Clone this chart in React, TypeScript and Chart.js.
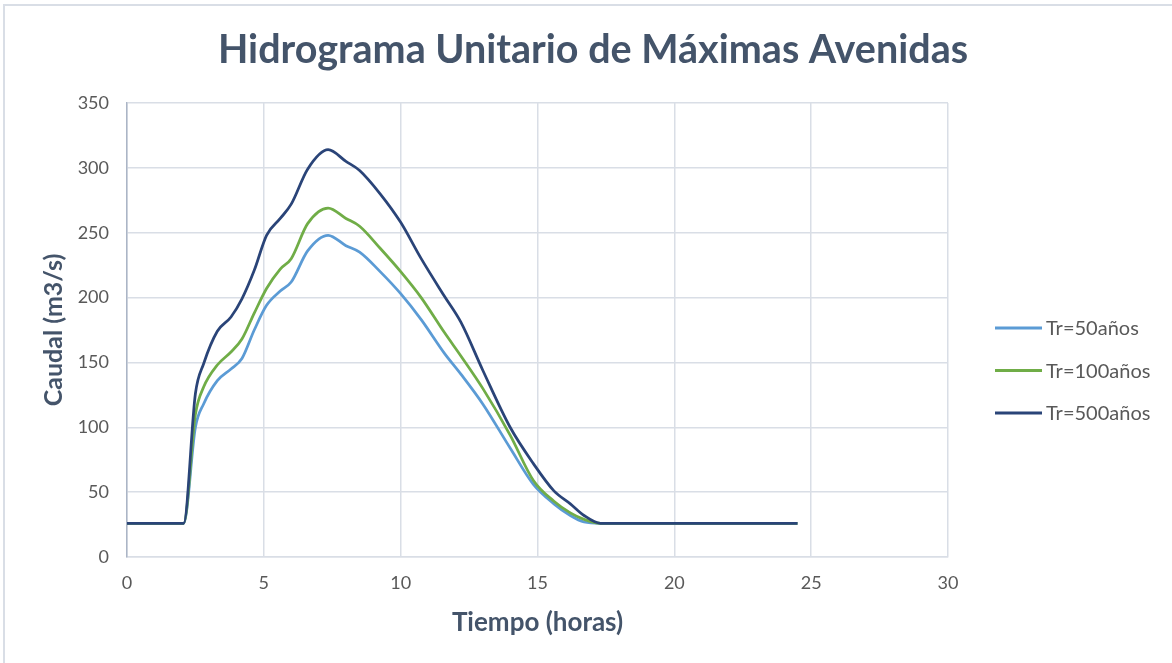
import React, { useEffect, useRef } from "react";
import { Chart, registerables } from "chart.js";

Chart.register(...registerables);

const titleText = "Hidrograma Unitario de Máximas Avenidas";
const xTitle = "Tiempo (horas)";
const yTitle = "Caudal (m3/s)";
const seriesNames = ["Tr=50años", "Tr=100años", "Tr=500años"];
const seriesColors = ["#5B9BD5", "#70AD47", "#2A4478"];

const xTicks = [0, 5, 10, 15, 20, 25, 30];
const yTicks = [0, 50, 100, 150, 200, 250, 300, 350];

const times = [0, 2.07, 2.5, 2.8, 3.3, 3.8, 4.2, 4.65, 5.1, 5.6, 6.0, 6.6, 7.35, 8.0, 8.5, 9.25, 10, 10.75, 11.6, 12.2, 13.0, 14.0, 14.85, 15.6, 16.2, 16.7, 17.3, 24.5];
const q50 = [26, 26, 100, 118, 136, 145, 153, 175, 194, 205, 212, 236, 248, 240, 235, 220, 203, 183, 157, 141, 118, 84, 56, 41, 32, 27, 26, 26];
const q100 = [26, 26, 110, 131, 148, 158, 168, 188, 207, 222, 230, 257, 269, 261, 255, 238, 220, 200, 173, 155, 130, 94, 59, 43, 34, 29, 26, 26];
const q500 = [26, 26, 126, 149, 174, 185, 199, 221, 248, 261, 272, 299, 314, 305, 298, 280, 258, 230, 201, 181, 144, 100, 72, 51, 41, 32, 26, 26];

const seriesValues = [q50, q100, q500];

const FONT = "Lato, 'Open Sans', sans-serif";
const TICK_COLOR = "#595959";
const TITLE_COLOR = "#44546A";
const GRID_COLOR = "#D9DEE6";

export default function App() {
  const ref = useRef<HTMLCanvasElement>(null);

  useEffect(() => {
    const canvas = ref.current;
    if (!canvas) return;

    const decor = {
      id: "decor",
      beforeDraw(chart: any) {
        const ctx = chart.ctx;
        ctx.save();
        ctx.fillStyle = "#FFFFFF";
        ctx.fillRect(0, 0, chart.width, chart.height);
        ctx.fillStyle = GRID_COLOR;
        ctx.fillRect(3, 4, chart.width - 3, 2);
        ctx.fillRect(3, 4, 2, chart.height - 4);
        ctx.restore();
      },
      afterDraw(chart: any) {
        const ctx = chart.ctx;
        ctx.save();
        // title
        ctx.fillStyle = TITLE_COLOR;
        ctx.font = `bold 39.5px ${FONT}`;
        ctx.textAlign = "center";
        ctx.textBaseline = "alphabetic";
        ctx.fillText(titleText, 593, 63);
        // legend
        const ys = [328, 370.5, 413];
        ctx.font = `20px ${FONT}`;
        ctx.textAlign = "left";
        ctx.textBaseline = "middle";
        seriesNames.forEach((name, i) => {
          ctx.strokeStyle = seriesColors[i];
          ctx.lineWidth = 3;
          ctx.beginPath();
          ctx.moveTo(995, ys[i]);
          ctx.lineTo(1042, ys[i]);
          ctx.stroke();
          ctx.fillStyle = TICK_COLOR;
          ctx.fillText(name, 1046, ys[i] + 1);
        });
        ctx.restore();
      },
    };

    const chart = new Chart(canvas, {
      type: "line",
      data: {
        datasets: seriesNames.map((name, i) => ({
          label: name,
          data: times.map((t, j) => ({ x: t, y: seriesValues[i][j] })),
          borderColor: seriesColors[i],
          backgroundColor: seriesColors[i],
          borderWidth: 2.75,
          pointRadius: 0,
          cubicInterpolationMode: "monotone" as const,
          fill: false,
          order: 2 - i,
        })),
      },
      options: {
        responsive: false,
        animation: false,
        layout: { padding: { left: 0, top: 103, right: 224, bottom: 0 } },
        plugins: {
          legend: { display: false },
          title: { display: false },
          tooltip: { enabled: false },
        },
        scales: {
          x: {
            type: "linear",
            min: xTicks[0],
            max: xTicks[xTicks.length - 1],
            afterBuildTicks: (s: any) => {
              s.ticks = xTicks.map((v) => ({ value: v }));
            },
            ticks: {
              color: TICK_COLOR,
              font: { family: FONT, size: 18 },
              padding: 15,
              maxRotation: 0,
            },
            grid: { color: GRID_COLOR, drawTicks: false, lineWidth: 1.5 },
            border: { color: GRID_COLOR, width: 1.5 },
            title: {
              display: true,
              text: xTitle,
              color: TITLE_COLOR,
              font: { family: FONT, size: 26, weight: "bold" },
              padding: { top: 0, bottom: 25 },
            },
            afterFit: (s: any) => {
              s.height = 106;
            },
          },
          y: {
            type: "linear",
            min: yTicks[0],
            max: yTicks[yTicks.length - 1],
            afterBuildTicks: (s: any) => {
              s.ticks = yTicks.map((v) => ({ value: v }));
            },
            ticks: {
              color: TICK_COLOR,
              font: { family: FONT, size: 18 },
              padding: 18,
            },
            grid: { color: GRID_COLOR, drawTicks: false, lineWidth: 1.5 },
            border: { color: "#ABB5C6", width: 1.5 },
            title: {
              display: true,
              text: yTitle,
              color: TITLE_COLOR,
              font: { family: FONT, size: 25, weight: "bold" },
              padding: { top: 39, bottom: 0 },
            },
            afterFit: (s: any) => {
              s.width = 127;
            },
          },
        },
      },
      plugins: [decor],
    });

    return () => chart.destroy();
  }, []);

  return (
    <div style={{ position: "fixed", left: 0, top: 0, width: 1172, height: 663 }}>
      <canvas ref={ref} width={1172} height={663} style={{ display: "block" }} />
    </div>
  );
}
